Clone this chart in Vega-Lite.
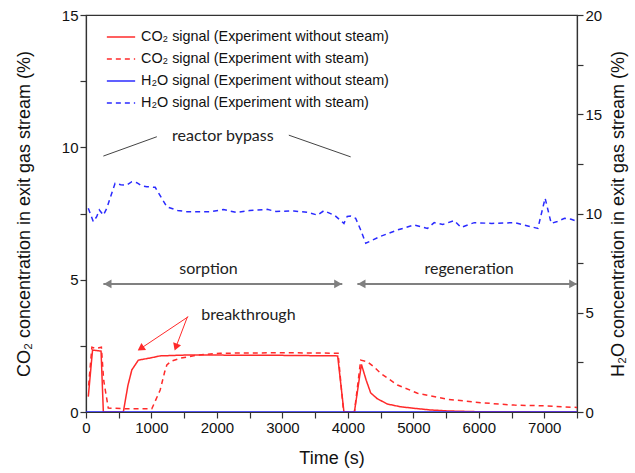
{
  "$schema": "https://vega.github.io/schema/vega-lite/v6.json",
  "width": 491,
  "height": 397,
  "autosize": {"type": "none"},
  "padding": {"left": 86, "top": 15, "right": 58, "bottom": 61},
  "background": "white",
  "config": {
    "view": {"stroke": "#333", "strokeWidth": 1.2},
    "font": "Liberation Sans",
    "axis": {
      "domainColor": "#333", "domainWidth": 1.2, "tickColor": "#333", "tickWidth": 1.2, "tickSize": 6,
      "labelFont": "Liberation Sans", "labelFontSize": 15, "labelColor": "#111",
      "titleFont": "Liberation Sans", "titleFontSize": 18, "titleFontWeight": "normal", "titleColor": "#111",
      "grid": false
    },
    "legend": {"labelFont": "Liberation Sans", "labelFontSize": 14.4, "labelColor": "#111", "labelLimit": 0}
  },
  "datasets": {
    "co2": [
      {"t": 35, "v": 0.58, "series": "CO₂ signal (Experiment without steam)"},
      {"t": 100, "v": 2.34, "series": "CO₂ signal (Experiment without steam)"},
      {"t": 230, "v": 2.3, "series": "CO₂ signal (Experiment without steam)"},
      {"t": 265, "v": 0, "series": "CO₂ signal (Experiment without steam)"},
      {"t": 570, "v": 0, "series": "CO₂ signal (Experiment without steam)"},
      {"t": 640, "v": 1.0, "series": "CO₂ signal (Experiment without steam)"},
      {"t": 700, "v": 1.59, "series": "CO₂ signal (Experiment without steam)"},
      {"t": 800, "v": 1.96, "series": "CO₂ signal (Experiment without steam)"},
      {"t": 1000, "v": 2.05, "series": "CO₂ signal (Experiment without steam)"},
      {"t": 1133, "v": 2.12, "series": "CO₂ signal (Experiment without steam)"},
      {"t": 1500, "v": 2.15, "series": "CO₂ signal (Experiment without steam)"},
      {"t": 2000, "v": 2.15, "series": "CO₂ signal (Experiment without steam)"},
      {"t": 3000, "v": 2.14, "series": "CO₂ signal (Experiment without steam)"},
      {"t": 3844, "v": 2.12, "series": "CO₂ signal (Experiment without steam)"},
      {"t": 3940, "v": 0, "series": "CO₂ signal (Experiment without steam)"},
      {"t": 4100, "v": 0, "series": "CO₂ signal (Experiment without steam)"},
      {"t": 4207, "v": 1.8, "series": "CO₂ signal (Experiment without steam)"},
      {"t": 4280, "v": 1.2, "series": "CO₂ signal (Experiment without steam)"},
      {"t": 4349, "v": 0.72, "series": "CO₂ signal (Experiment without steam)"},
      {"t": 4450, "v": 0.5, "series": "CO₂ signal (Experiment without steam)"},
      {"t": 4605, "v": 0.3, "series": "CO₂ signal (Experiment without steam)"},
      {"t": 4800, "v": 0.2, "series": "CO₂ signal (Experiment without steam)"},
      {"t": 5008, "v": 0.14, "series": "CO₂ signal (Experiment without steam)"},
      {"t": 5250, "v": 0.08, "series": "CO₂ signal (Experiment without steam)"},
      {"t": 5524, "v": 0.04, "series": "CO₂ signal (Experiment without steam)"},
      {"t": 6000, "v": 0.01, "series": "CO₂ signal (Experiment without steam)"},
      {"t": 7500, "v": 0, "series": "CO₂ signal (Experiment without steam)"},
      {"t": 40, "v": 1.0, "series": "CO₂ signal (Experiment with steam)"},
      {"t": 90, "v": 2.45, "series": "CO₂ signal (Experiment with steam)"},
      {"t": 150, "v": 2.4, "series": "CO₂ signal (Experiment with steam)"},
      {"t": 235, "v": 2.45, "series": "CO₂ signal (Experiment with steam)"},
      {"t": 270, "v": 1.2, "series": "CO₂ signal (Experiment with steam)"},
      {"t": 340, "v": 0.15, "series": "CO₂ signal (Experiment with steam)"},
      {"t": 600, "v": 0.12, "series": "CO₂ signal (Experiment with steam)"},
      {"t": 1005, "v": 0.12, "series": "CO₂ signal (Experiment with steam)"},
      {"t": 1133, "v": 0.83, "series": "CO₂ signal (Experiment with steam)"},
      {"t": 1200, "v": 1.5, "series": "CO₂ signal (Experiment with steam)"},
      {"t": 1235, "v": 1.78, "series": "CO₂ signal (Experiment with steam)"},
      {"t": 1300, "v": 1.92, "series": "CO₂ signal (Experiment with steam)"},
      {"t": 1440, "v": 2.03, "series": "CO₂ signal (Experiment with steam)"},
      {"t": 1695, "v": 2.15, "series": "CO₂ signal (Experiment with steam)"},
      {"t": 2052, "v": 2.22, "series": "CO₂ signal (Experiment with steam)"},
      {"t": 3000, "v": 2.24, "series": "CO₂ signal (Experiment with steam)"},
      {"t": 3850, "v": 2.22, "series": "CO₂ signal (Experiment with steam)"},
      {"t": 3935, "v": 0, "series": "CO₂ signal (Experiment with steam)"},
      {"t": 4100, "v": 0, "series": "CO₂ signal (Experiment with steam)"},
      {"t": 4196, "v": 1.96, "series": "CO₂ signal (Experiment with steam)"},
      {"t": 4298, "v": 1.9, "series": "CO₂ signal (Experiment with steam)"},
      {"t": 4400, "v": 1.7, "series": "CO₂ signal (Experiment with steam)"},
      {"t": 4502, "v": 1.46, "series": "CO₂ signal (Experiment with steam)"},
      {"t": 4758, "v": 1.02, "series": "CO₂ signal (Experiment with steam)"},
      {"t": 5064, "v": 0.71, "series": "CO₂ signal (Experiment with steam)"},
      {"t": 5524, "v": 0.48, "series": "CO₂ signal (Experiment with steam)"},
      {"t": 6034, "v": 0.35, "series": "CO₂ signal (Experiment with steam)"},
      {"t": 6544, "v": 0.26, "series": "CO₂ signal (Experiment with steam)"},
      {"t": 7055, "v": 0.23, "series": "CO₂ signal (Experiment with steam)"},
      {"t": 7500, "v": 0.17, "series": "CO₂ signal (Experiment with steam)"}
    ],
    "h2o": [
      {"t": 0, "v": 0, "series": "H₂O signal (Experiment without steam)"},
      {"t": 7500, "v": 0, "series": "H₂O signal (Experiment without steam)"},
      {"t": 35, "v": 10.26, "series": "H₂O signal (Experiment with steam)"},
      {"t": 112, "v": 9.59, "series": "H₂O signal (Experiment with steam)"},
      {"t": 163, "v": 9.84, "series": "H₂O signal (Experiment with steam)"},
      {"t": 204, "v": 10.18, "series": "H₂O signal (Experiment with steam)"},
      {"t": 265, "v": 9.92, "series": "H₂O signal (Experiment with steam)"},
      {"t": 317, "v": 10.26, "series": "H₂O signal (Experiment with steam)"},
      {"t": 444, "v": 11.52, "series": "H₂O signal (Experiment with steam)"},
      {"t": 530, "v": 11.45, "series": "H₂O signal (Experiment with steam)"},
      {"t": 623, "v": 11.43, "series": "H₂O signal (Experiment with steam)"},
      {"t": 700, "v": 11.6, "series": "H₂O signal (Experiment with steam)"},
      {"t": 776, "v": 11.55, "series": "H₂O signal (Experiment with steam)"},
      {"t": 850, "v": 11.4, "series": "H₂O signal (Experiment with steam)"},
      {"t": 929, "v": 11.35, "series": "H₂O signal (Experiment with steam)"},
      {"t": 1057, "v": 11.32, "series": "H₂O signal (Experiment with steam)"},
      {"t": 1235, "v": 10.34, "series": "H₂O signal (Experiment with steam)"},
      {"t": 1400, "v": 10.15, "series": "H₂O signal (Experiment with steam)"},
      {"t": 1541, "v": 10.09, "series": "H₂O signal (Experiment with steam)"},
      {"t": 1899, "v": 10.09, "series": "H₂O signal (Experiment with steam)"},
      {"t": 2100, "v": 10.2, "series": "H₂O signal (Experiment with steam)"},
      {"t": 2300, "v": 10.05, "series": "H₂O signal (Experiment with steam)"},
      {"t": 2500, "v": 10.15, "series": "H₂O signal (Experiment with steam)"},
      {"t": 2767, "v": 10.21, "series": "H₂O signal (Experiment with steam)"},
      {"t": 2900, "v": 10.1, "series": "H₂O signal (Experiment with steam)"},
      {"t": 3175, "v": 10.13, "series": "H₂O signal (Experiment with steam)"},
      {"t": 3400, "v": 10.05, "series": "H₂O signal (Experiment with steam)"},
      {"t": 3533, "v": 9.92, "series": "H₂O signal (Experiment with steam)"},
      {"t": 3634, "v": 10.14, "series": "H₂O signal (Experiment with steam)"},
      {"t": 3800, "v": 9.9, "series": "H₂O signal (Experiment with steam)"},
      {"t": 3940, "v": 9.5, "series": "H₂O signal (Experiment with steam)"},
      {"t": 3990, "v": 9.85, "series": "H₂O signal (Experiment with steam)"},
      {"t": 4043, "v": 9.87, "series": "H₂O signal (Experiment with steam)"},
      {"t": 4119, "v": 9.76, "series": "H₂O signal (Experiment with steam)"},
      {"t": 4196, "v": 9.17, "series": "H₂O signal (Experiment with steam)"},
      {"t": 4273, "v": 8.5, "series": "H₂O signal (Experiment with steam)"},
      {"t": 4500, "v": 8.85, "series": "H₂O signal (Experiment with steam)"},
      {"t": 4758, "v": 9.17, "series": "H₂O signal (Experiment with steam)"},
      {"t": 5012, "v": 9.42, "series": "H₂O signal (Experiment with steam)"},
      {"t": 5217, "v": 9.25, "series": "H₂O signal (Experiment with steam)"},
      {"t": 5319, "v": 9.54, "series": "H₂O signal (Experiment with steam)"},
      {"t": 5450, "v": 9.45, "series": "H₂O signal (Experiment with steam)"},
      {"t": 5625, "v": 9.64, "series": "H₂O signal (Experiment with steam)"},
      {"t": 5727, "v": 9.3, "series": "H₂O signal (Experiment with steam)"},
      {"t": 5931, "v": 9.54, "series": "H₂O signal (Experiment with steam)"},
      {"t": 6200, "v": 9.5, "series": "H₂O signal (Experiment with steam)"},
      {"t": 6544, "v": 9.54, "series": "H₂O signal (Experiment with steam)"},
      {"t": 6902, "v": 9.25, "series": "H₂O signal (Experiment with steam)"},
      {"t": 7013, "v": 10.77, "series": "H₂O signal (Experiment with steam)"},
      {"t": 7106, "v": 9.5, "series": "H₂O signal (Experiment with steam)"},
      {"t": 7200, "v": 9.6, "series": "H₂O signal (Experiment with steam)"},
      {"t": 7310, "v": 9.76, "series": "H₂O signal (Experiment with steam)"},
      {"t": 7412, "v": 9.71, "series": "H₂O signal (Experiment with steam)"},
      {"t": 7500, "v": 9.6, "series": "H₂O signal (Experiment with steam)"}
    ],
    "bands": [
      {"t": 55, "t2": 255},
      {"t": 3938, "t2": 4133}
    ],
    "connectors": [
      {"t": 265, "v": 9.67, "t2": 1082, "v2": 10.4},
      {"t": 3098, "v": 10.46, "t2": 4043, "v2": 9.64}
    ],
    "labels": [
      {"t": 2090, "v": 10.42, "label": "reactor bypass"},
      {"t": 1871, "v": 5.4, "label": "sorption"},
      {"t": 5852, "v": 5.4, "label": "regeneration"},
      {"t": 2481, "v": 3.66, "label": "breakthrough"}
    ],
    "phases": [
      {"t": 265, "v": 4.84, "t2": 3915, "phase": "sorption"},
      {"t": 4145, "v": 4.84, "t2": 7500, "phase": "regeneration"}
    ],
    "headsLeft": [
      {"t": 330, "v": 4.84},
      {"t": 4210, "v": 4.84}
    ],
    "headsRight": [
      {"t": 3850, "v": 4.84},
      {"t": 7440, "v": 4.84}
    ],
    "btLines": [
      {"t": 1562, "v": 3.6, "t2": 836, "v2": 2.4},
      {"t": 1550, "v": 3.6, "t2": 1373, "v2": 2.45}
    ],
    "btHead1": [{"t": 836, "v": 2.4}],
    "btHead2": [{"t": 1373, "v": 2.45}]
  },
  "encoding": {
    "x": {
      "field": "t", "type": "quantitative",
      "scale": {"domain": [0, 7500], "nice": false, "zero": false},
      "axis": {
        "title": "Time (s)", "titlePadding": 14, "zindex": 1,
        "values": [0, 500, 1000, 1500, 2000, 2500, 3000, 3500, 4000, 4500, 5000, 5500, 6000, 6500, 7000, 7500],
        "labelExpr": "datum.value % 1000 == 0 ? format(datum.value, 'd') : ''",
        "labelFlush": false, "labelOverlap": false
      }
    }
  },
  "layer": [
    {
      "encoding": {
        "y": {
          "field": "v", "type": "quantitative",
          "scale": {"domain": [0, 15], "nice": false},
          "axis": {
            "title": "CO₂ concentration in exit gas stream (%)", "titlePadding": 28,
            "values": [0, 2.5, 5, 7.5, 10, 12.5, 15],
            "labelExpr": "datum.value % 5 == 0 ? datum.label : ''"
          }
        }
      },
      "layer": [
        {
          "data": {"name": "bands"},
          "mark": {"type": "rect", "color": "#e0e0e0"},
          "encoding": {"x2": {"field": "t2"}, "y": {"datum": 0}, "y2": {"datum": 15}}
        },
        {
          "data": {"name": "connectors"},
          "mark": {"type": "rule", "color": "#444", "strokeWidth": 1},
          "encoding": {"x2": {"field": "t2"}, "y2": {"field": "v2"}}
        },
        {
          "data": {"name": "phases"},
          "mark": {"type": "rule", "color": "#808080", "strokeWidth": 2},
          "encoding": {"x2": {"field": "t2"}}
        },
        {
          "data": {"name": "headsLeft"},
          "mark": {"type": "point", "shape": "triangle-left", "filled": true, "color": "#808080", "size": 80, "opacity": 1}
        },
        {
          "data": {"name": "headsRight"},
          "mark": {"type": "point", "shape": "triangle-right", "filled": true, "color": "#808080", "size": 80, "opacity": 1}
        },
        {
          "data": {"name": "labels"},
          "mark": {"type": "text", "font": "Lato", "fontSize": 16, "color": "#222", "baseline": "middle"},
          "encoding": {"text": {"field": "label"}}
        },
        {
          "data": {"name": "btLines"},
          "mark": {"type": "rule", "color": "#ff2a2a", "strokeWidth": 1},
          "encoding": {"x2": {"field": "t2"}, "y2": {"field": "v2"}}
        },
        {
          "data": {"name": "btHead1"},
          "mark": {"type": "point", "shape": "triangle-up", "angle": 236, "filled": true, "color": "#ff2a2a", "size": 70, "opacity": 1}
        },
        {
          "data": {"name": "btHead2"},
          "mark": {"type": "point", "shape": "triangle-up", "angle": 200, "filled": true, "color": "#ff2a2a", "size": 70, "opacity": 1}
        },
        {
          "data": {"name": "co2"},
          "mark": {"type": "line", "strokeWidth": 1.5},
          "encoding": {
            "color": {
              "field": "series", "type": "nominal",
              "scale": {
                "domain": ["CO₂ signal (Experiment without steam)", "CO₂ signal (Experiment with steam)", "H₂O signal (Experiment without steam)", "H₂O signal (Experiment with steam)"],
                "range": ["#ff2a2a", "#ff2a2a", "#2a2aff", "#2a2aff"]
              },
              "legend": {
                "title": null, "orient": "none", "legendX": 20, "legendY": 7,
                "symbolType": "stroke", "symbolSize": 800, "symbolStrokeWidth": 1.5,
                "labelOffset": 5, "rowPadding": 0, "labelLimit": 0
              }
            },
            "strokeDash": {
              "field": "series", "type": "nominal",
              "scale": {
                "domain": ["CO₂ signal (Experiment without steam)", "CO₂ signal (Experiment with steam)", "H₂O signal (Experiment without steam)", "H₂O signal (Experiment with steam)"],
                "range": [[1, 0], [5, 4], [1, 0], [5, 4]]
              },
              "legend": {
                "title": null, "orient": "none", "legendX": 20, "legendY": 7,
                "symbolType": "stroke", "symbolSize": 800, "symbolStrokeWidth": 1.5,
                "labelOffset": 5, "rowPadding": 0, "labelLimit": 0
              }
            }
          }
        }
      ]
    },
    {
      "data": {"name": "h2o"},
      "mark": {"type": "line", "strokeWidth": 1.5},
      "encoding": {
        "y": {
          "field": "v", "type": "quantitative",
          "scale": {"domain": [0, 20], "nice": false},
          "axis": {
            "orient": "right",
            "title": "H₂O concentration in exit gas stream (%)", "titleAngle": -90, "titlePadding": 26,
            "values": [0, 2.5, 5, 7.5, 10, 12.5, 15, 17.5, 20],
            "labelExpr": "datum.value % 5 == 0 ? datum.label : ''"
          }
        },
        "color": {"field": "series", "type": "nominal"},
        "strokeDash": {"field": "series", "type": "nominal"}
      }
    }
  ],
  "resolve": {"scale": {"y": "independent"}}
}
